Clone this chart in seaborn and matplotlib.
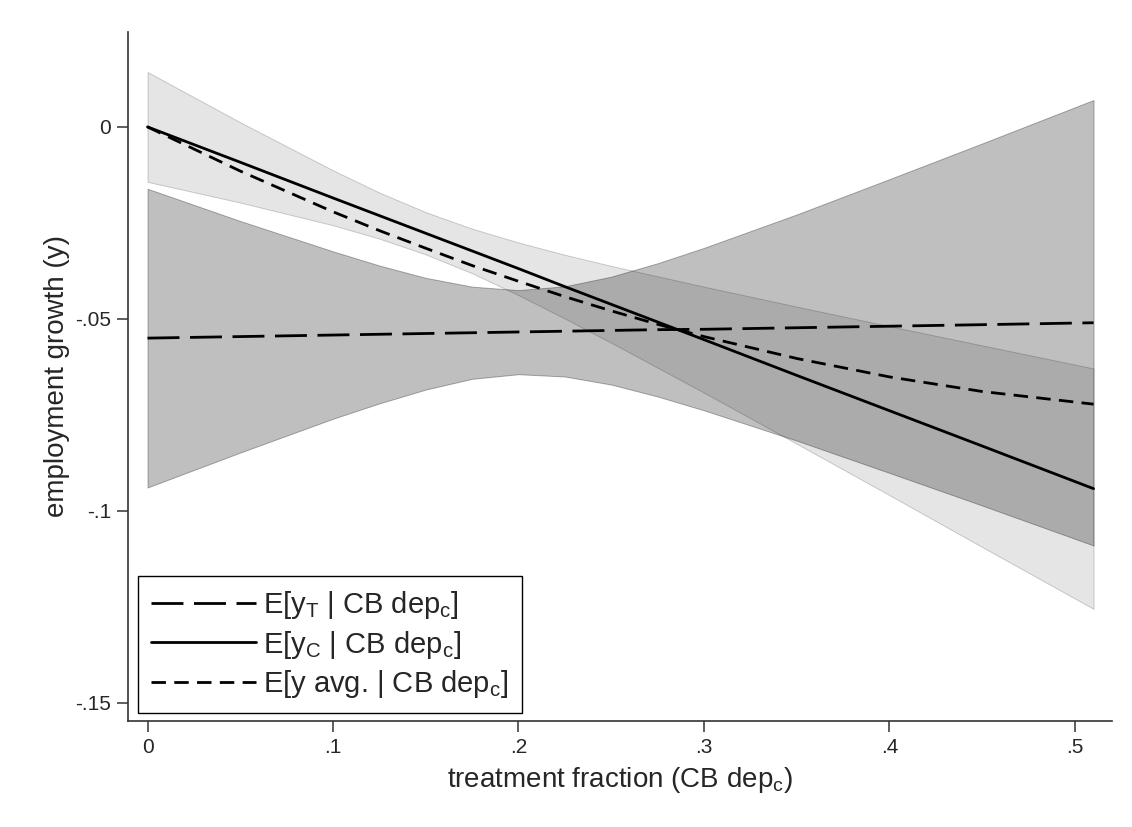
import matplotlib
matplotlib.use('Agg')
import matplotlib.pyplot as plt
import seaborn as sns

# treatment fraction (CB dep_c) grid
frac = [0, 0.05, 0.10, 0.125, 0.15, 0.175, 0.20, 0.225, 0.25, 0.275, 0.30, 0.35, 0.40, 0.45, 0.51]

# E[y_T | CB dep_c] with its band
y_treat = [-0.0550, -0.0546, -0.0542, -0.0540, -0.0538, -0.0536, -0.0534, -0.0532,
           -0.0530, -0.0528, -0.0527, -0.0523, -0.0519, -0.0515, -0.0510]
treat_hi = [-0.0161, -0.0245, -0.0324, -0.0361, -0.0393, -0.0416, -0.0425, -0.0415,
            -0.0390, -0.0355, -0.0315, -0.0228, -0.0136, -0.0043, 0.0070]
treat_lo = [-0.0939, -0.0848, -0.0760, -0.0720, -0.0684, -0.0656, -0.0644, -0.0650,
            -0.0671, -0.0702, -0.0738, -0.0817, -0.0901, -0.0986, -0.1090]

# E[y_C | CB dep_c] with its band
y_ctrl = [0.0, -0.0092, -0.0185, -0.0231, -0.0277, -0.0323, -0.0369, -0.0416,
          -0.0462, -0.0508, -0.0554, -0.0647, -0.0739, -0.0831, -0.0942]
ctrl_hi = [0.0143, 0.0012, -0.0113, -0.0171, -0.0222, -0.0265, -0.0301, -0.0333,
           -0.0362, -0.0389, -0.0416, -0.0468, -0.0519, -0.0569, -0.0629]
ctrl_lo = [-0.0143, -0.0197, -0.0256, -0.0291, -0.0332, -0.0381, -0.0438, -0.0499,
           -0.0562, -0.0627, -0.0692, -0.0825, -0.0959, -0.1094, -0.1255]

# E[y avg. | CB dep_c]
y_avg = [0.0, -0.0115, -0.0221, -0.0270, -0.0316, -0.0361, -0.0402, -0.0442,
         -0.0479, -0.0514, -0.0546, -0.0603, -0.0651, -0.0689, -0.0722]

labels = [r'E[y$_{T}$ | CB dep$_{c}$]', r'E[y$_{C}$ | CB dep$_{c}$]', r'E[y avg. | CB dep$_{c}$]']
x_ticks = [0, 0.1, 0.2, 0.3, 0.4, 0.5]
x_ticklabels = ['0', '.1', '.2', '.3', '.4', '.5']
y_ticks = [0, -0.05, -0.1, -0.15]
y_ticklabels = ['0', '-.05', '-.1', '-.15']

sns.set_theme(style='white')
plt.rcParams['font.family'] = ['Liberation Sans', 'DejaVu Sans']
plt.rcParams['mathtext.fontset'] = 'custom'
plt.rcParams['mathtext.rm'] = 'Liberation Sans'
plt.rcParams['mathtext.default'] = 'regular'

fig = plt.figure(figsize=(11.32, 8.27), dpi=100)
ax = fig.add_axes([0.1131, 0.1282, 0.8693, 0.8335])

# confidence bands (translucent grey, darker where they overlap)
ax.fill_between(frac, ctrl_lo, ctrl_hi, facecolor=(0, 0, 0, 0.10),
                edgecolor=(0, 0, 0, 0.18), linewidth=0.7, zorder=1)
ax.fill_between(frac, treat_lo, treat_hi, facecolor=(0, 0, 0, 0.25),
                edgecolor=(0, 0, 0, 0.30), linewidth=0.7, zorder=1)

# fitted lines
sns.lineplot(x=frac, y=y_treat, ax=ax, color='black', linewidth=2.0,
             linestyle=(0, (11.5, 3.8)), label=labels[0], zorder=3)
sns.lineplot(x=frac, y=y_ctrl, ax=ax, color='black', linewidth=2.0,
             linestyle='-', label=labels[1], zorder=3)
sns.lineplot(x=frac, y=y_avg, ax=ax, color='black', linewidth=2.0,
             linestyle=(0, (5.2, 3.0)), label=labels[2], zorder=3)

ax.set_xlim(-0.0105, 0.52)
ax.set_ylim(-0.1547, 0.0248)
ax.set_xticks(x_ticks)
ax.set_xticklabels(x_ticklabels)
ax.set_yticks(y_ticks)
ax.set_yticklabels(y_ticklabels)
ax.tick_params(axis='both', which='major', direction='out', length=8, width=1.1,
               color='#333333', labelsize=15, pad=4, left=True, bottom=True)

for side in ['top', 'right']:
    ax.spines[side].set_visible(False)
for side in ['left', 'bottom']:
    ax.spines[side].set_color('#333333')
    ax.spines[side].set_linewidth(1.2)

ax.set_xlabel(r'treatment fraction (CB dep$_{c}$)', fontsize=20, labelpad=6)
ax.set_ylabel('employment growth (y)', fontsize=20, labelpad=4)

leg = ax.legend(loc='lower left', bbox_to_anchor=(0.0102, 0.0116), borderaxespad=0,
                fontsize=21, handlelength=3.6, handletextpad=0.25, labelspacing=0.25,
                borderpad=0.45, frameon=True, fancybox=False, framealpha=1)
leg.get_frame().set_edgecolor('black')
leg.get_frame().set_linewidth(1.0)

fig.savefig('out.png', dpi=100, facecolor='white')
